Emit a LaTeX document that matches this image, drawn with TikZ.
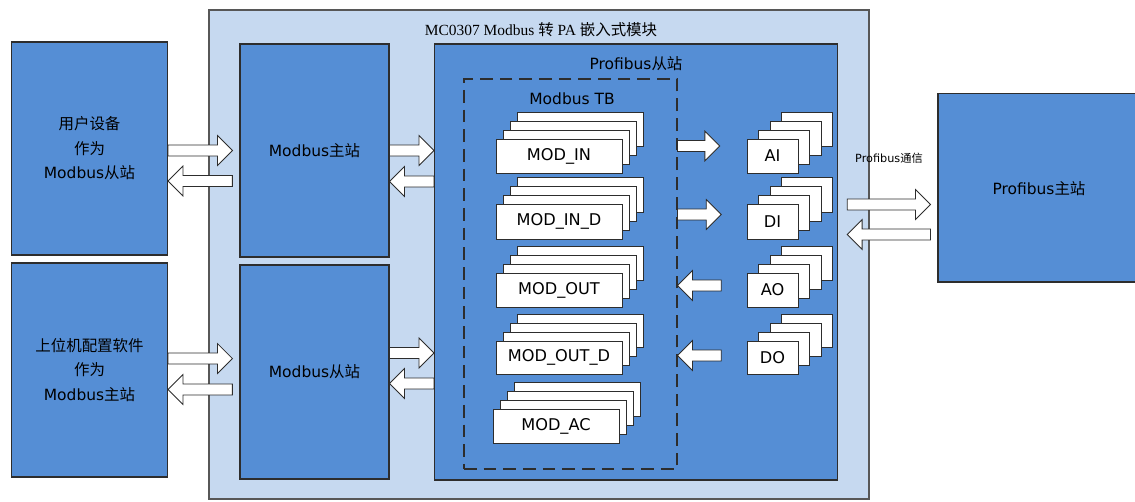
\documentclass[tikz,border=0pt]{standalone}
\usepackage{fontspec}
\setmainfont{DejaVu Sans}
\newfontfamily\cjk{Noto Sans CJK SC}
\newfontfamily\tms{Liberation Serif}
\usetikzlibrary{fit,calc}

\definecolor{boxblue}{RGB}{85,142,213}
\definecolor{modfill}{RGB}{198,217,240}
\definecolor{edgegray}{RGB}{45,45,45}

\tikzset{
  blk/.style={draw=edgegray,fill=boxblue,line width=0.8pt,inner sep=0pt},
  blktxt/.style={align=center,inner sep=0pt,font=\fontsize{11}{17.4}\selectfont},
  card/.style={draw=edgegray,fill=white,line width=0.7pt,inner sep=0pt},
  cardtxt/.style={inner sep=0pt,font=\fontsize{11.5}{13}\selectfont},
  fat/.style={draw=edgegray,fill=white,line width=0.6pt,line join=miter},
}

% stack of cards: name, x1, y1, x2, y2, dx, dy, text
\newcommand{\cardstack}[8]{%
  \foreach \i in {3,2,1}
    \draw[card] ({#2+\i*#6},{#3-\i*#7}) rectangle ({#4+\i*#6},{#5-\i*#7});
  \node[card,fit={(#2,#3) (#4,#5)},label={[cardtxt]center:#8}] (#1) {};
}
% hollow block arrow from tail to tip (horizontal)
\newcommand{\fatarrow}[2]{%
  \draw[fat] let \p1=(#1), \p2=(#2), \n1={sign(\x2-\x1)} in
    (\x1,\y1+3.9pt) -- (\x2-\n1*10.6pt,\y1+3.9pt) -- (\x2-\n1*10.6pt,\y1+10.6pt)
    -- (\x2,\y1) -- (\x2-\n1*10.6pt,\y1-10.6pt) -- (\x2-\n1*10.6pt,\y1-3.9pt)
    -- (\x1,\y1-3.9pt) -- cycle;
}

\begin{document}
\begin{tikzpicture}[x=0.025cm,y=-0.025cm]
	\clip (0,0) rectangle (1135,501);
	% module frame
	\node[draw=edgegray!80,fill=modfill,line width=0.8pt,inner sep=0pt,fit={(209,10) (869,499)}] (mod) {};
	\node[font=\fontsize{11}{13}\selectfont] (ttl) at (541,30) {\tms MC0307 Modbus {\cjk 转} PA {\cjk 嵌入式模块}};
	% outside devices
	\node[blk,fit={(11.5,42) (167.5,255)},label={[blktxt]center:{\cjk 用户设备}\\{\cjk 作为}\\Modbus{\cjk 从站}}] (ud) {};
	\node[blk,fit={(11.5,263) (167.5,477)},label={[blktxt]center:{\cjk 上位机配置软件}\\{\cjk 作为}\\Modbus{\cjk 主站}}] (hs) {};
	\node[blk,fit={(938,93.5) (1145,282)}] (pm) {};
	\node[blktxt] (pmt) at (1039,189) {Profibus{\cjk 主站}};
	% modbus side
	\node[blk,fit={(240,44) (389,257)},label={[blktxt]center:Modbus{\cjk 主站}}] (mm) {};
	\node[blk,fit={(240,265) (389,479)},label={[blktxt]center:Modbus{\cjk 从站}}] (ms) {};
	% profibus slave
	\node[blk,fit={(434.5,44) (837.5,480)}] (psl) {};
	\node[blktxt] (pslt) at (636,64) {Profibus{\cjk 从站}};
	\node[draw=edgegray,dashed,dash pattern=on 9pt off 5pt,line width=0.8pt,inner sep=0pt,fit={(464,79) (677,469)}] (tb) {};
	\node[blktxt] (tbt) at (572,99) {Modbus TB};
	% blocks
	\foreach \nm/\ya/\yb/\txt in {min/139/173/MOD\_IN, mind/204/239/MOD\_IN\_D, mout/273/307/MOD\_OUT, moutd/341/374/MOD\_OUT\_D}
		\cardstack{\nm}{496}{\ya}{622}{\yb}{7}{8.7}{\txt};
	\cardstack{mac}{493}{409}{619}{443}{7}{8.7}{MOD\_AC}
	\foreach \nm/\ya/\yb/\txt in {ai/139/173/AI, di/204/239/DI, ao/273/307/AO, do/341/374/DO}
		\cardstack{\nm}{747}{\ya}{798}{\yb}{11.5}{8.7}{\txt};
	% arrows
	\fatarrow{ud.east |- 0,150.5}{[xshift=-5pt]mm.west |- 0,150.5}
	\fatarrow{[xshift=-5pt]mm.west |- 0,181}{ud.east |- 0,181}
	\fatarrow{hs.east |- 0,358.5}{[xshift=-5pt]ms.west |- 0,358.5}
	\fatarrow{[xshift=-5pt]ms.west |- 0,389.5}{hs.east |- 0,389.5}
	\fatarrow{mm.east |- 0,150.5}{psl.west |- 0,150.5}
	\fatarrow{psl.west |- 0,181.5}{mm.east |- 0,181.5}
	\fatarrow{ms.east |- 0,353}{psl.west |- 0,353}
	\fatarrow{psl.west |- 0,383.5}{ms.east |- 0,383.5}
	\fatarrow{tb.east |- 0,146}{[xshift=-19pt]ai.west |- 0,146}
	\fatarrow{tb.east |- 0,214.5}{[xshift=-18pt]di.west |- 0,214.5}
	\fatarrow{[xshift=-18pt]ao.west |- 0,285.5}{tb.east |- 0,285.5}
	\fatarrow{[xshift=-18pt]do.west |- 0,355.5}{tb.east |- 0,355.5}
	\fatarrow{[xshift=6.5pt]psl.east |- 0,204.5}{[xshift=-5pt]pm.west |- 0,204.5}
	\fatarrow{[xshift=-5pt]pm.west |- 0,234.5}{[xshift=6.5pt]psl.east |- 0,234.5}
	\node[font=\fontsize{8}{9}\selectfont] (pcl) at (889,158) {Profibus{\cjk 通信}};
\end{tikzpicture}
\end{document}
